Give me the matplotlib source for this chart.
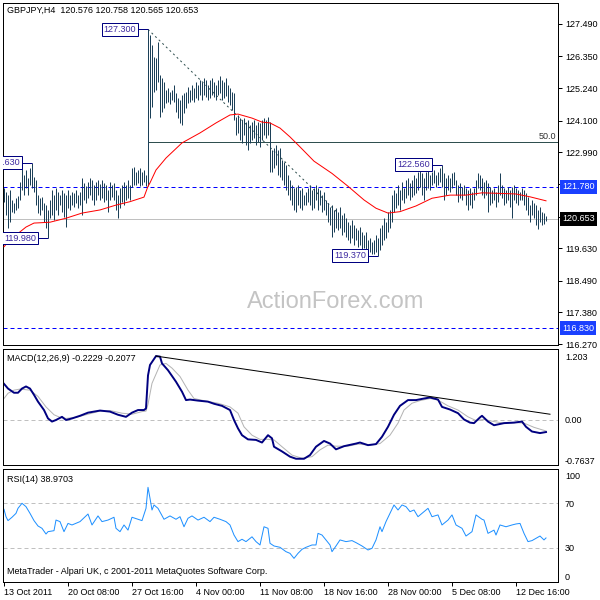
import matplotlib
matplotlib.use('Agg')
import matplotlib.pyplot as plt
import matplotlib.transforms as mtrans

plt.rcParams['font.family'] = ['Liberation Sans', 'DejaVu Sans']
plt.rcParams['font.size'] = 6.5

# ---------------- data ----------------
symbol_title = "GBPJPY,H4  120.576 120.758 120.565 120.653"
date_labels = ['13 Oct 2011', '20 Oct 08:00', '27 Oct 16:00', '4 Nov 00:00', '11 Nov 08:00',
               '18 Nov 16:00', '28 Nov 00:00', '5 Dec 08:00', '12 Dec 16:00']
date_label_bars = [0, 32, 64, 96, 128, 160, 192, 224, 256]

highs = [
    121.74, 121.60, 121.49, 121.67, 121.32, 121.21, 121.39, 121.46, 121.95, 122.62,
    122.20, 122.37, 122.09, 122.44, 122.63, 122.13, 122.02, 121.49, 121.39, 121.42,
    121.21, 121.14, 120.97, 121.32, 121.67, 121.49, 121.74, 121.60, 121.49, 121.67,
    121.57, 121.49, 121.67, 121.49, 121.60, 121.57, 121.67, 121.49, 121.60, 122.09,
    121.92, 121.81, 121.95, 122.09, 122.02, 121.85, 121.95, 122.02, 121.88, 122.02,
    121.92, 121.85, 121.67, 121.95, 121.85, 121.92, 121.67, 121.49, 121.74, 121.85,
    121.95, 121.85, 122.02, 121.85, 122.44, 122.48, 122.30, 122.37, 122.44, 122.30,
    122.37, 122.20, 127.30, 127.10, 126.75, 126.33, 126.30, 126.86, 125.70, 125.60,
    125.46, 125.18, 125.25, 125.11, 125.18, 125.35, 125.07, 124.90, 124.83, 125.00,
    125.07, 125.11, 125.28, 125.18, 125.35, 125.25, 125.46, 125.35, 125.53, 125.46,
    125.60, 125.53, 125.35, 125.53, 125.60, 125.46, 125.35, 125.53, 125.67, 125.53,
    125.46, 125.60, 125.35, 125.25, 125.11, 125.07, 124.23, 124.30, 124.19, 124.12,
    124.19, 124.05, 124.12, 123.95, 124.05, 124.12, 123.95, 124.05, 124.02, 124.12,
    124.19, 124.12, 124.23, 124.05, 123.07, 123.14, 123.25, 123.07, 123.14, 122.72,
    122.65, 122.55, 122.20, 122.02, 121.85, 121.74, 121.78, 121.85, 121.67, 121.74,
    121.49, 121.60, 121.74, 121.85, 121.67, 121.74, 121.85, 121.74, 121.67, 121.49,
    121.60, 121.32, 121.21, 121.07, 121.14, 120.97, 121.04, 120.90, 121.07, 120.79,
    120.86, 120.69, 120.55, 120.44, 120.62, 120.44, 120.34, 120.27, 120.37, 120.20,
    120.09, 120.20, 119.92, 119.98, 119.85, 119.92, 120.09, 119.98, 120.34, 120.44,
    120.69, 120.55, 120.90, 120.97, 121.49, 121.67, 121.57, 121.85, 121.67, 121.95,
    121.74, 122.02, 122.09, 121.92, 122.02, 122.20, 122.09, 122.30, 122.48, 122.27,
    122.09, 122.30, 122.37, 122.20, 122.30, 122.37, 122.20, 122.30, 122.44, 122.56,
    122.27, 122.09, 122.20, 122.09, 122.27, 122.30, 122.02, 121.85, 121.92, 121.78,
    121.85, 121.74, 121.67, 121.74, 121.60, 121.74, 122.02, 122.27, 122.20, 122.09,
    121.95, 122.02, 121.92, 121.78, 121.67, 121.74, 121.60, 121.85, 122.27, 121.85,
    121.74, 121.67, 121.78, 121.67, 121.78, 121.85, 121.74, 121.67, 121.60, 121.74,
    121.67, 121.57, 121.42, 121.14, 121.32, 121.21, 121.14, 120.97, 121.07, 120.90,
    120.86, 120.76]
lows = [
    121.25, 120.79, 120.34, 120.55, 120.90, 120.86, 120.97, 121.04, 121.32, 121.67,
    121.49, 121.74, 121.49, 121.85, 121.74, 121.60, 121.14, 120.86, 120.79, 120.97,
    120.55, 120.34, 119.98, 120.69, 120.79, 120.62, 120.97, 120.79, 121.14, 120.90,
    120.72, 120.37, 121.04, 120.97, 121.14, 121.07, 121.21, 121.04, 121.14, 120.79,
    121.32, 121.21, 121.39, 121.49, 121.32, 121.14, 121.32, 121.49, 121.32, 121.39,
    121.25, 121.32, 120.90, 121.32, 121.42, 121.32, 120.97, 120.69, 121.04, 121.25,
    121.14, 121.32, 121.39, 121.32, 121.78, 121.85, 121.85, 121.92, 121.81, 121.85,
    121.95, 121.81, 121.81, 124.19, 124.58, 125.11, 125.18, 125.46, 124.23, 124.40,
    124.55, 124.72, 124.76, 124.69, 124.83, 124.76, 124.40, 124.19, 124.02, 123.95,
    124.37, 124.55, 124.72, 124.76, 124.83, 124.76, 124.90, 124.83, 125.00, 124.83,
    125.00, 124.93, 124.83, 124.90, 125.00, 124.93, 124.83, 125.00, 125.07, 124.83,
    124.90, 124.97, 124.76, 124.65, 124.47, 124.12, 123.60, 123.67, 123.42, 123.32,
    123.60, 123.25, 123.07, 123.32, 123.42, 123.49, 123.25, 123.35, 123.18, 123.42,
    123.60, 123.49, 123.60, 122.30, 122.30, 122.44, 122.55, 122.20, 122.13, 122.02,
    121.85, 121.67, 121.49, 121.32, 121.14, 120.97, 120.90, 121.14, 121.04, 120.97,
    121.14, 121.14, 121.25, 121.14, 120.97, 121.04, 121.32, 120.97, 121.14, 120.90,
    120.97, 120.79, 120.55, 120.44, 120.02, 120.20, 120.34, 120.27, 120.34, 120.09,
    120.20, 120.02, 119.92, 119.81, 119.98, 119.74, 119.92, 119.67, 119.74, 119.57,
    119.64, 119.57, 119.39, 119.50, 119.43, 119.43, 119.50, 119.37, 119.57, 119.74,
    119.92, 119.98, 120.20, 120.34, 120.55, 120.90, 121.04, 121.14, 120.97, 121.32,
    121.21, 121.39, 121.49, 121.32, 121.42, 121.49, 121.57, 121.67, 121.78, 121.49,
    121.32, 121.67, 121.74, 121.67, 121.85, 121.92, 121.78, 121.85, 121.95, 121.78,
    121.32, 121.49, 121.67, 121.60, 121.74, 121.85, 121.49, 121.25, 121.39, 121.32,
    121.49, 121.14, 120.97, 121.14, 121.04, 121.32, 121.49, 121.74, 121.67, 121.49,
    121.39, 121.49, 120.90, 121.14, 121.21, 121.32, 121.07, 121.25, 121.49, 121.39,
    121.14, 121.21, 121.32, 121.07, 120.69, 121.32, 121.21, 121.14, 121.32, 121.32,
    121.14, 120.97, 120.79, 120.55, 120.79, 120.69, 120.44, 120.30, 120.55, 120.44,
    120.48, 120.57]
bar_index = list(range(len(highs)))

sma_bars = [0, 3, 11, 15, 18, 23, 31, 39, 48, 56, 63, 70, 72, 73, 76, 81, 89, 98, 106, 113,
            117, 124, 129, 133, 138, 143, 148, 155, 164, 172, 180, 186, 192, 198, 206, 214,
            223, 231, 239, 248, 256, 263, 271]
sma_vals = [119.68, 119.92, 120.37, 120.51, 120.52, 120.54, 120.68, 120.86, 120.97, 121.14,
            121.26, 121.42, 121.80, 121.92, 122.37, 122.79, 123.32, 123.67, 124.02, 124.30,
            124.33, 124.19, 124.05, 124.02, 123.84, 123.53, 123.18, 122.68, 122.25, 121.80,
            121.32, 121.03, 120.86, 120.91, 121.11, 121.38, 121.49, 121.49, 121.57, 121.55,
            121.53, 121.43, 121.29]

price_ticks = [127.49, 126.35, 125.24, 124.10, 122.99, 121.87, 120.74, 119.63, 118.49, 117.38, 116.27]
hidden_ticks = [121.87, 120.74]   # covered by the price boxes in the reference
level_prices = [121.78, 116.83]
last_price = 120.653
fib_high, fib_low = 127.30, 119.37
fib_start_bar = 72
trend_bars = [72, 167]
trend_prices = [127.30, 120.86]
swing_bars = [72, 14, 22, 219, 187]
swing_prices = [127.30, 122.63, 119.98, 122.56, 119.37]

macd_bars = [0, 2, 5, 7, 9, 11, 13, 15, 17, 20, 22, 24, 26, 29, 31, 34, 38, 42, 48, 53,
             57, 61, 64, 67, 70, 71, 72, 73, 76, 78, 79, 82, 86, 89, 91, 93, 97, 102, 105, 109,
             113, 115, 117, 119, 122, 126, 129, 132, 134, 135, 139, 143, 146, 150, 153, 156, 160, 163, 166, 170,
             176, 178, 182, 186, 189, 192, 195, 198, 202, 206, 210, 213, 217, 219, 223, 227, 230, 233, 235, 238,
             239, 242, 245, 250, 255, 259, 261, 264, 268, 271]
macd_vals = [0.69, 0.60, 0.52, 0.52, 0.60, 0.64, 0.60, 0.48, 0.35, 0.19, 0.03, -0.03, 0.00, 0.06, 0.00, 0.03, 0.08, 0.14, 0.18, 0.16,
             0.10, 0.06, 0.14, 0.19, 0.19, 0.22, 0.85, 1.05, 1.22, 1.21, 1.08, 0.95, 0.73, 0.54, 0.38, 0.39, 0.37, 0.35, 0.31, 0.27,
             0.19, 0.00, -0.16, -0.29, -0.37, -0.38, -0.43, -0.29, -0.35, -0.51, -0.60, -0.70, -0.74, -0.74, -0.67, -0.51, -0.40, -0.45, -0.56, -0.50,
             -0.45, -0.43, -0.48, -0.46, -0.32, -0.13, 0.10, 0.27, 0.38, 0.38, 0.41, 0.43, 0.39, 0.25, 0.20, 0.13, 0.01, -0.05, -0.06, 0.05,
             0.08, -0.03, -0.10, -0.06, -0.05, -0.03, -0.13, -0.22, -0.25, -0.23]
signal_bars = [0, 2, 5, 8, 13, 17, 21, 25, 28, 31, 36, 42, 48, 53, 59, 64, 69, 71, 72, 74,
               78, 81, 84, 88, 92, 95, 101, 107, 113, 117, 120, 124, 128, 132, 135, 139, 144, 149, 154, 158,
               162, 166, 172, 177, 183, 188, 193, 197, 200, 204, 208, 213, 217, 222, 227, 232, 236, 240, 245, 250,
               256, 260, 265, 271]
signal_vals = [0.41, 0.51, 0.57, 0.59, 0.57, 0.45, 0.25, 0.10, 0.05, 0.03, 0.05, 0.11, 0.17, 0.18, 0.13, 0.11, 0.16, 0.17, 0.30, 0.70,
               1.05, 1.08, 0.99, 0.83, 0.57, 0.41, 0.36, 0.32, 0.25, 0.13, -0.13, -0.29, -0.37, -0.37, -0.38, -0.51, -0.67, -0.73, -0.70, -0.57,
               -0.48, -0.50, -0.50, -0.46, -0.48, -0.45, -0.29, -0.06, 0.19, 0.32, 0.37, 0.41, 0.38, 0.27, 0.19, 0.06, -0.01, 0.01, -0.03, -0.06,
               -0.05, -0.06, -0.14, -0.21]
macd_trend_bars = [76, 273]
macd_trend_vals = [1.22, 0.11]
macd_tick_vals = [1.203, 0.0, -0.7637]
macd_tick_labels = ['1.203', '0.00', '-0.7637']

rsi_bars = [0, 1, 2, 4, 6, 7, 9, 11, 13, 15, 17, 19, 21, 22, 25, 26, 28, 30, 32, 34,
            38, 42, 44, 47, 49, 52, 55, 56, 58, 60, 62, 64, 67, 69, 71, 72, 73, 74, 75, 77,
            80, 83, 86, 88, 90, 92, 94, 97, 100, 103, 105, 108, 111, 113, 115, 117, 119, 121, 124, 126,
            128, 130, 132, 133, 135, 138, 141, 143, 145, 147, 149, 151, 154, 156, 157, 159, 161, 163, 164, 166,
            168, 171, 174, 176, 179, 182, 184, 186, 188, 189, 191, 193, 195, 197, 199, 201, 203, 205, 207, 210,
            212, 214, 217, 219, 222, 224, 226, 229, 231, 234, 236, 239, 240, 242, 245, 246, 248, 251, 254, 256,
            258, 260, 262, 264, 266, 268, 270, 271]
rsi_vals = [64.6, 58, 54.5, 57.5, 61, 65.5, 70, 67, 61, 54.5, 49.7, 47.6, 42.5, 44.6, 45.5, 55, 53.6, 44.6, 52, 50.6,
            53.6, 60.4, 50.6, 58.7, 53.6, 55, 57.5, 47.6, 44.6, 50.6, 46, 57.5, 55.7, 54.5, 65.5, 84.3, 74.5, 64, 68.5, 65.5,
            55.7, 58.7, 55.7, 58, 49, 56.6, 58.7, 55, 57.5, 53.6, 57.5, 55.7, 53.6, 50.6, 41.6, 35.7, 37.8, 35.7, 40, 35.7,
            32.7, 49, 47.6, 34.2, 31.8, 30.6, 26.7, 25.2, 20.7, 25.2, 28.8, 30.6, 32.7, 32.7, 43.1, 41.6, 37.2, 32.7, 26.7, 31.8,
            37.2, 35.7, 36.6, 34.8, 31.8, 28.2, 29.7, 37.2, 49, 44.6, 53.6, 61, 68.5, 64, 68.5, 67, 62.5, 64, 58, 62.5,
            65.5, 58, 59.6, 50.6, 55, 59.6, 50.6, 47.6, 40.7, 44.6, 59.6, 55.7, 55, 43.1, 46, 41.6, 50.6, 49, 50.6, 51.5,
            52, 43.1, 35.7, 36.6, 38.7, 40.7, 37.2, 38.97]
rsi_levels = [70, 30]
rsi_tick_vals = [95.3, 70, 30, 4.9]
rsi_tick_labels = ['100', '70', '30', '0']

# ---------------- styling ----------------
PX = 0.72  # one pixel in points at 100 dpi
BAR_COLOR = '#1c4058'
NAVY = '#000080'
LABEL_TXT = '#3c28a0'
BLUE = '#0000ff'
BOX_BLUE = '#1a40ff'
SLATE = '#2f4f4f'

fig = plt.figure(figsize=(6, 6), dpi=100)
W = H = 600.0


def rect(x0, y0, x1, y1):
    return [x0 / W, 1 - y1 / H, (x1 - x0) / W, (y1 - y0) / H]


ax1 = fig.add_axes(rect(3, 3, 558, 345))
ax2 = fig.add_axes(rect(3, 349, 558, 465))
ax3 = fig.add_axes(rect(3, 469, 558, 582))

for ax in (ax1, ax2, ax3):
    ax.set_xlim(-0.5, 277)
    for s in ax.spines.values():
        s.set_linewidth(PX)
        s.set_color('black')
    ax.yaxis.tick_right()
    ax.tick_params(axis='x', bottom=False, labelbottom=False)
    ax.tick_params(axis='y', labelsize=6.5, colors='black')

# ---------------- main price panel ----------------
ax1.set_ylim(116.235, 128.225)
ax1.text(0.6, 0.126, 'ActionForex.com', transform=ax1.transAxes, fontsize=17,
         color='#c4c4c4', ha='center', va='center', zorder=0)
ax1.axhline(last_price, color='#c0c0c0', lw=PX, zorder=1)
for lp in level_prices:
    ax1.axhline(lp, color=BLUE, lw=PX, ls=(0, (4, 3)), zorder=2)
fib_mid = (fib_high + fib_low) / 2
ax1.hlines(fib_mid, fib_start_bar, 277, color=SLATE, lw=PX, zorder=2)
ax1.text(0.9964, fib_mid + 0.2, '50.0', transform=mtrans.blended_transform_factory(ax1.transAxes, ax1.transData),
         ha='right', va='center', color='#303030')
ax1.plot(trend_bars, trend_prices, color=SLATE, lw=PX, ls=(0, (2, 3)), zorder=2)
ax1.vlines(bar_index, lows, highs, color=BAR_COLOR, lw=PX, zorder=3)
ax1.plot(sma_bars, sma_vals, color='red', lw=PX, zorder=4)

for b, p in zip(swing_bars, swing_prices):
    ax1.hlines(p, b - 5, b, color=NAVY, lw=PX, zorder=5)
    ax1.annotate(f'{p:.3f}', xy=(b - 5, p), xytext=(-1.5, 0), textcoords='offset points',
                 ha='right', va='center', color=LABEL_TXT, fontsize=6.5, zorder=6,
                 annotation_clip=False, clip_on=True,
                 bbox=dict(boxstyle='square,pad=0.2', fc='white', ec=NAVY, lw=PX))

ax1.text(0.0072, 0.98, symbol_title, transform=ax1.transAxes, ha='left', va='center', color='black')

ax1.set_yticks(price_ticks)
ax1.set_yticklabels(['' if v in hidden_ticks else f'{v:.3f}' for v in price_ticks])
ax1.tick_params(axis='y', direction='out', length=3, width=PX, pad=2)

bt = mtrans.blended_transform_factory(ax1.transAxes, ax1.transData)
for lp in level_prices:
    ax1.text(1.0 + 4 / 555, lp, f'{lp:.3f}', transform=bt, ha='left', va='center', color='white',
             fontsize=6.5, clip_on=False, zorder=10,
             bbox=dict(boxstyle='square,pad=0.25', fc=BOX_BLUE, ec='none'))
ax1.text(1.0 + 4 / 555, last_price, f'{last_price:.3f}', transform=bt, ha='left', va='center', color='white',
         fontsize=6.5, clip_on=False, zorder=10,
         bbox=dict(boxstyle='square,pad=0.25', fc='black', ec='none'))

# ---------------- MACD panel ----------------
ax2.set_ylim(-0.859, 1.355)
ax2.axhline(0, color='#c0c0c0', lw=PX, ls=(0, (4, 3)))
ax2.plot(signal_bars, signal_vals, color='#b4b4b4', lw=PX)
ax2.plot(macd_bars, macd_vals, color=NAVY, lw=1.4)
ax2.plot(macd_trend_bars, macd_trend_vals, color='black', lw=PX)
ax2.set_yticks(macd_tick_vals)
ax2.set_yticklabels(macd_tick_labels)
ax2.tick_params(axis='y', length=0, pad=5)
ax2.text(0.0072, 0.922, 'MACD(12,26,9) -0.2229 -0.2077', transform=ax2.transAxes,
         ha='left', va='center', color='black')

# ---------------- RSI panel ----------------
ax3.set_ylim(-0.45, 100.7)
for lv in rsi_levels:
    ax3.axhline(lv, color='#c0c0c0', lw=PX, ls=(0, (4, 3)))
ax3.plot(rsi_bars, rsi_vals, color='#1e90ff', lw=PX)
ax3.set_yticks(rsi_tick_vals)
ax3.set_yticklabels(rsi_tick_labels)
ax3.tick_params(axis='y', length=0, pad=5)
ax3.text(0.0072, 0.91, 'RSI(14) 38.9703', transform=ax3.transAxes, ha='left', va='center', color='black')
ax3.text(0.0072, 0.097, 'MetaTrader - Alpari UK, c 2001-2011 MetaQuotes Software Corp.',
         transform=ax3.transAxes, ha='left', va='center', color='black')

ax3.set_xticks(date_label_bars)
ax3.set_xticklabels(date_labels)
ax3.tick_params(axis='x', bottom=True, labelbottom=True, direction='out', length=3, width=PX,
                pad=1.5, labelsize=6.5)
for lbl in ax3.get_xticklabels():
    lbl.set_horizontalalignment('left')

fig.savefig('out.png', dpi=100, facecolor='white')
